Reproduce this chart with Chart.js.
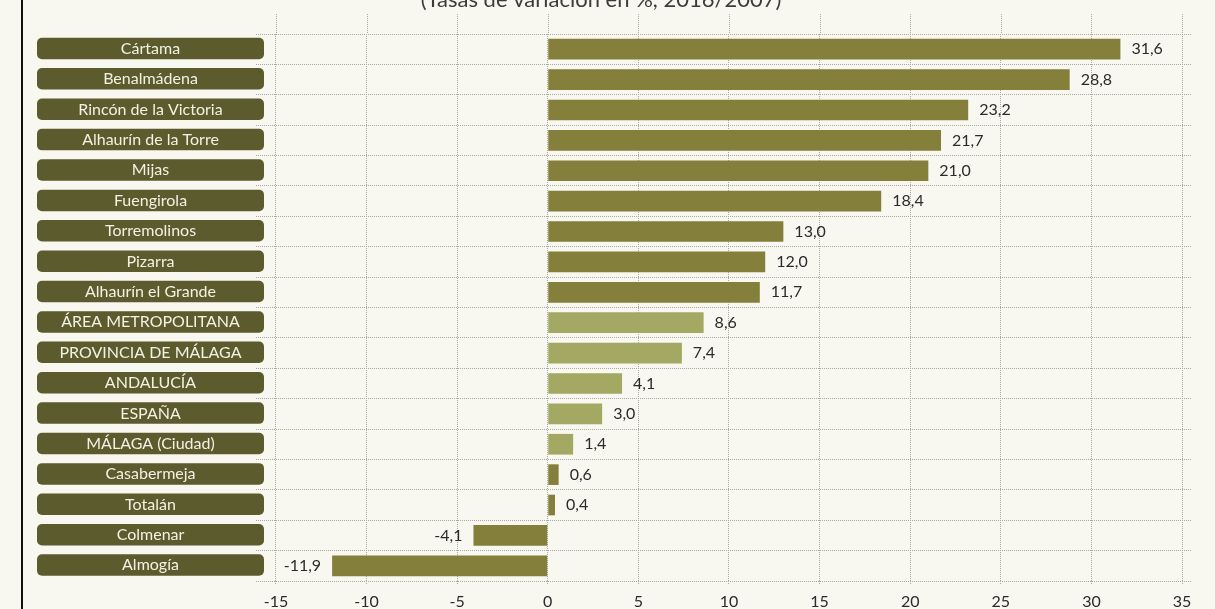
<!DOCTYPE html>
<html lang="es">
<head>
<meta charset="utf-8">
<title>Tasas de variación en %, 2016/2007</title>
<script src="https://cdn.jsdelivr.net/npm/chart.js@4.4.1/dist/chart.umd.min.js"></script>
<style>
    html, body { margin: 0; padding: 0; background: #f8f7f0; }
    #wrap { width: 1215px; height: 609px; }
</style>
</head>
<body>
<div id="wrap"><canvas id="myChart" width="1215" height="609"></canvas></div>

<script>
    const titleText = "(Tasas de variación en %, 2016/2007)";

    const municipios = [
        "Cártama", "Benalmádena", "Rincón de la Victoria", "Alhaurín de la Torre",
        "Mijas", "Fuengirola", "Torremolinos", "Pizarra", "Alhaurín el Grande",
        "ÁREA METROPOLITANA", "PROVINCIA DE MÁLAGA", "ANDALUCÍA", "ESPAÑA",
        "MÁLAGA (Ciudad)", "Casabermeja", "Totalán", "Colmenar", "Almogía"
    ];
    const variacion = [31.6, 28.8, 23.2, 21.7, 21.0, 18.4, 13.0, 12.0, 11.7,
        8.6, 7.4, 4.1, 3.0, 1.4, 0.6, 0.4, -4.1, -11.9];
    const agregados = ["ÁREA METROPOLITANA", "PROVINCIA DE MÁLAGA", "ANDALUCÍA", "ESPAÑA", "MÁLAGA (Ciudad)"];
    const xTicks = [-15, -10, -5, 0, 5, 10, 15, 20, 25, 30, 35];

    const colorDark = "#857f3c";
    const colorLight = "#a3a963";
    const boxColor = "#5b5b2e";
    const gridColor = "#a9a9a4";
    const fontFam = "Lato, 'Open Sans', sans-serif";

    let fmt = v => v.toFixed(1).replace(".", ",");

    // fondo, borde izquierdo, titulo y cajas de etiquetas
    const decor = {
        id: "decor",
        beforeDraw(chart) {
            const ctx = chart.ctx;
            const area = chart.chartArea;
            const xs = chart.scales.x;
            ctx.save();
            ctx.fillStyle = "#f8f7f0";
            ctx.fillRect(0, 0, chart.width, chart.height);
            ctx.fillStyle = "#111";
            ctx.fillRect(21, 0, 2, chart.height);

            ctx.fillStyle = "#3c3c3c";
            ctx.font = "22px " + fontFam;
            ctx.textAlign = "center";
            ctx.textBaseline = "alphabetic";
            ctx.fillText(titleText, 601, 7);

            // lineas verticales que suben por encima del area
            ctx.strokeStyle = gridColor;
            ctx.lineWidth = 1;
            ctx.setLineDash([1, 1]);
            xTicks.forEach(v => {
                const x = Math.round(xs.getPixelForValue(v)) + 0.5;
                ctx.beginPath();
                ctx.moveTo(x, 14);
                ctx.lineTo(x, area.top);
                ctx.stroke();
            });
            ctx.restore();
        },
        afterDatasetsDraw(chart) {
            const ctx = chart.ctx;
            const ys = chart.scales.y;
            const meta = chart.getDatasetMeta(0);
            ctx.save();

            // cajas con nombres
            municipios.forEach((name, i) => {
                const y = ys.getPixelForValue(i);
                ctx.fillStyle = boxColor;
                ctx.beginPath();
                ctx.roundRect(37, y - 11.5, 227, 21.5, 5);
                ctx.fill();
                ctx.fillStyle = "#f3f1e2";
                ctx.font = "16px " + fontFam;
                ctx.textAlign = "center";
                ctx.textBaseline = "middle";
                ctx.fillText(name, 150.5, y - 0.5);
            });

            // valores
            ctx.fillStyle = "#2b2b2b";
            ctx.font = "16px " + fontFam;
            ctx.textBaseline = "middle";
            meta.data.forEach((bar, i) => {
                const v = variacion[i];
                if (v >= 0) {
                    ctx.textAlign = "left";
                    ctx.fillText(fmt(v), bar.x + 11, bar.y);
                } else {
                    ctx.textAlign = "right";
                    ctx.fillText(fmt(v), bar.x - 11, bar.y);
                }
            });
            ctx.restore();
        }
    };

    let showChart = () => {
        const ctx = document.getElementById("myChart").getContext("2d");
        new Chart(ctx, {
            type: "bar",
            data: {
                labels: municipios,
                datasets: [{
                    data: variacion,
                    backgroundColor: municipios.map(m => agregados.includes(m) ? colorLight : colorDark),
                    borderWidth: 0,
                    categoryPercentage: 1,
                    barPercentage: 0.68
                }]
            },
            options: {
                indexAxis: "y",
                responsive: false,
                devicePixelRatio: 1,
                animation: false,
                layout: { padding: { left: 256, right: 23, top: 34, bottom: 0 } },
                plugins: { legend: { display: false }, tooltip: { enabled: false } },
                scales: {
                    x: {
                        min: -16.1,
                        max: 35.55,
                        afterBuildTicks: s => { s.ticks = xTicks.map(v => ({ value: v })); },
                        afterFit: s => { s.height = 28; },
                        ticks: {
                            color: "#2b2b2b",
                            font: { family: fontFam, size: 16 },
                            padding: 8,
                            maxRotation: 0,
                            callback: v => v
                        },
                        grid: { color: gridColor, tickLength: 3, tickColor: gridColor, tickBorderDash: [1, 1] },
                        border: { display: false, dash: [1, 1] }
                    },
                    y: {
                        afterFit: s => { s.width = 0; },
                        ticks: { display: false },
                        grid: { color: gridColor, drawTicks: false, offset: true },
                        border: { display: false, dash: [1, 1] }
                    }
                }
            },
            plugins: [decor]
        });
    };

    showChart();
</script>
</body>
</html>
